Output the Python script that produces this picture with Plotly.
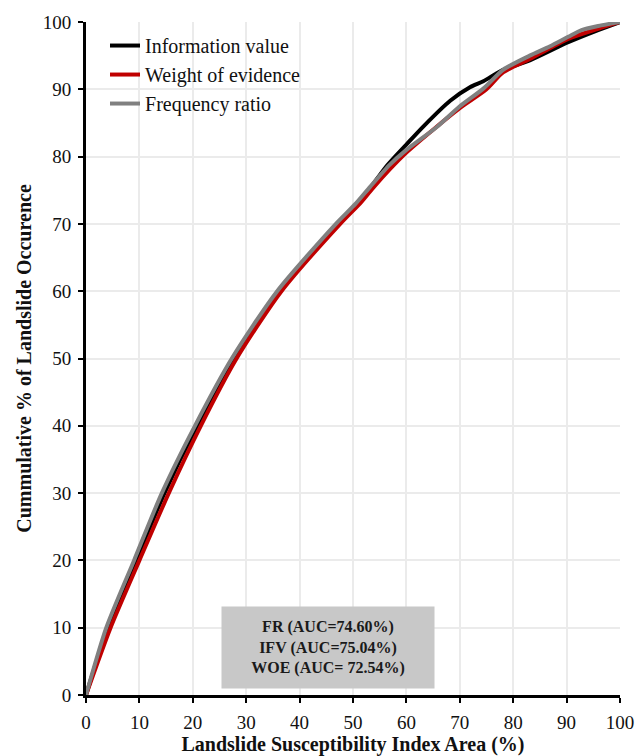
import plotly.graph_objects as go

# Information value (IFV)
iv_x = [0, 4.1, 9.4, 14.7, 20.8, 27.7, 36.1, 47.1, 50.9, 53.2, 56.3, 60.0, 63.2, 68.2, 71.9, 74.4, 78.1, 83.1, 90.3, 95.9, 100]
iv_y = [0, 10, 20, 30, 40, 50, 60, 70, 73.1, 75.3, 78.6, 81.8, 84.5, 88.3, 90.3, 91.2, 92.9, 94.3, 97.0, 98.8, 100]

# Weight of evidence (WOE)
woe_x = [0, 4.6, 10.0, 15.5, 21.5, 28.2, 36.6, 47.6, 51.5, 53.6, 57.0, 60.0, 65.0, 70.0, 75.0, 78.1, 83.1, 90.3, 95.9, 100]
woe_y = [0, 10, 20, 30, 40, 50, 60, 70, 73.2, 75.2, 78.2, 80.6, 84.0, 87.2, 90.0, 92.5, 94.5, 97.5, 99.0, 100]

# Frequency ratio (FR)
fr_x = [0, 3.8, 9.0, 14.2, 20.4, 27.3, 35.8, 46.8, 50.5, 53.2, 56.9, 60.0, 65.7, 69.9, 74.4, 78.1, 83.1, 86.9, 90.3, 92.8, 95.9, 100]
fr_y = [0, 10, 20, 30, 40, 50, 60, 70, 73.0, 75.5, 78.8, 81.0, 84.4, 87.4, 90.1, 92.9, 95.0, 96.4, 97.8, 98.8, 99.4, 100]

auc_text = ["FR (AUC=74.60%)", "IFV (AUC=75.04%)", "WOE (AUC= 72.54%)"]
x_ticks = list(range(0, 101, 10))
y_ticks = list(range(0, 101, 10))

FONT = "Liberation Serif"

fig = go.Figure()
fig.add_trace(go.Scatter(x=iv_x, y=iv_y, mode="lines", name="Information value", legendgroup="a",
                         line=dict(color="#000000", width=4, shape="spline", smoothing=0.7)))
fig.add_trace(go.Scatter(x=woe_x, y=woe_y, mode="lines", name="Weight of evidence", legendgroup="b",
                         line=dict(color="#c00000", width=4, shape="spline", smoothing=0.7)))
fig.add_trace(go.Scatter(x=fr_x, y=fr_y, mode="lines", name="Frequency ratio", legendgroup="c",
                         line=dict(color="#808080", width=4, shape="spline", smoothing=0.7)))

fig.add_annotation(x=45.35, y=7.05, xref="x", yref="y",
                   text="<br>".join(auc_text), showarrow=False,
                   font=dict(family=FONT, size=16, color="#1a1a1a", weight="bold"),
                   bgcolor="#c8c8c8", width=206, height=75, borderpad=3, align="center")

axis_common = dict(range=[0, 100], showgrid=True, gridcolor="#ebebeb", gridwidth=2,
                   showline=True, linecolor="#000000", linewidth=3, automargin=False,
                   ticks="outside", ticklen=5, tickwidth=2, tickcolor="#000000",
                   zeroline=False, tickfont=dict(family=FONT, size=19, color="#111111"))

fig.update_xaxes(**axis_common, tickvals=x_ticks, ticklabelstandoff=3,
                 title=dict(text="<b>Landslide Susceptibility Index Area (%)</b>",
                            font=dict(family=FONT, size=20, color="#111111"), standoff=6))
fig.update_yaxes(**axis_common, tickvals=y_ticks, ticklabelstandoff=3,
                 title=dict(text="<b>Cummulative % of Landslide Occurence</b>",
                            font=dict(family=FONT, size=20, color="#111111"), standoff=6))

fig.update_layout(
    width=644, height=756,
    margin=dict(l=86, r=24, t=22, b=61),
    plot_bgcolor="#ffffff", paper_bgcolor="#ffffff",
    showlegend=True,
    legend=dict(x=0.0356, y=0.994, xanchor="left", yanchor="top",
                bgcolor="rgba(255,255,255,0)", font=dict(family=FONT, size=20, color="#111111"),
                tracegroupgap=0, itemwidth=30),
)

fig.write_html("out.html", config={"displayModeBar": False},
               post_script="document.body.style.margin='0';")
